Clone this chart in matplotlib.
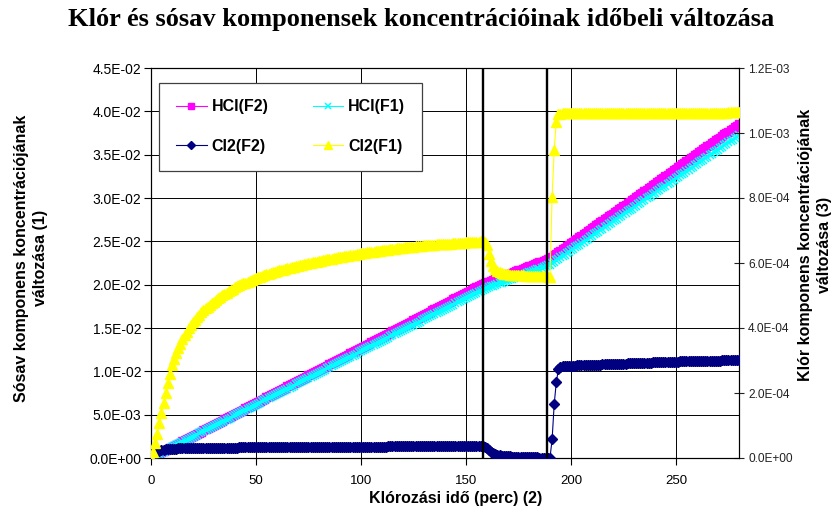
import numpy as np
import matplotlib
matplotlib.use("Agg")
import matplotlib.pyplot as plt
from matplotlib.ticker import FuncFormatter, MultipleLocator

# ---------------- data ----------------
minutes = list(range(0, 281))  # sampling: one point per minute

# HCl concentrations, left axis, in units of 1e-5
hcl_f2 = [
    0, 13, 25, 38, 51, 64, 76, 89, 102, 114,
    127, 140, 152, 165, 178, 191, 203, 216, 229, 241,
    254, 267, 279, 292, 305, 318, 330, 343, 356, 368,
    381, 394, 406, 419, 432, 445, 457, 470, 483, 495,
    508, 521, 533, 546, 559, 572, 584, 597, 610, 622,
    635, 648, 660, 673, 686, 699, 711, 724, 737, 749,
    762, 775, 787, 800, 813, 826, 838, 851, 864, 876,
    889, 902, 914, 927, 940, 953, 965, 978, 991, 1003,
    1016, 1029, 1041, 1054, 1067, 1080, 1092, 1105, 1118, 1130,
    1143, 1156, 1168, 1181, 1194, 1207, 1219, 1232, 1245, 1257,
    1270, 1283, 1295, 1308, 1321, 1334, 1346, 1359, 1372, 1384,
    1397, 1410, 1422, 1435, 1448, 1461, 1473, 1486, 1499, 1511,
    1524, 1537, 1549, 1562, 1575, 1588, 1600, 1613, 1626, 1638,
    1651, 1664, 1676, 1689, 1702, 1715, 1727, 1740, 1753, 1765,
    1778, 1791, 1803, 1816, 1829, 1842, 1854, 1867, 1880, 1892,
    1905, 1918, 1930, 1943, 1956, 1969, 1981, 1994, 2007, 2016,
    2026, 2035, 2044, 2054, 2063, 2072, 2081, 2091, 2100, 2109,
    2119, 2128, 2137, 2147, 2156, 2165, 2174, 2184, 2193, 2202,
    2212, 2221, 2230, 2240, 2249, 2258, 2267, 2277, 2286, 2295,
    2305, 2322, 2339, 2357, 2374, 2391, 2408, 2425, 2443, 2460,
    2477, 2494, 2511, 2529, 2546, 2563, 2580, 2597, 2615, 2632,
    2649, 2666, 2683, 2701, 2718, 2735, 2752, 2769, 2787, 2804,
    2821, 2838, 2855, 2873, 2890, 2907, 2924, 2941, 2959, 2976,
    2993, 3010, 3027, 3045, 3062, 3079, 3096, 3113, 3131, 3148,
    3165, 3182, 3199, 3217, 3234, 3251, 3268, 3285, 3303, 3320,
    3337, 3354, 3371, 3389, 3406, 3423, 3440, 3457, 3475, 3492,
    3509, 3526, 3543, 3561, 3578, 3595, 3612, 3629, 3647, 3664,
    3681, 3698, 3715, 3733, 3750, 3767, 3784, 3801, 3819, 3836,
    3853,
]

hcl_f1 = [
    0, 12, 25, 37, 49, 62, 74, 86, 98, 111,
    123, 135, 148, 160, 172, 185, 197, 209, 221, 234,
    246, 258, 271, 283, 295, 308, 320, 332, 344, 357,
    369, 381, 394, 406, 418, 431, 443, 455, 467, 480,
    492, 504, 517, 529, 541, 554, 566, 578, 590, 603,
    615, 627, 640, 652, 664, 677, 689, 701, 713, 726,
    738, 750, 763, 775, 787, 800, 812, 824, 836, 849,
    861, 873, 886, 898, 910, 923, 935, 947, 959, 972,
    984, 996, 1009, 1021, 1033, 1046, 1058, 1070, 1082, 1095,
    1107, 1119, 1132, 1144, 1156, 1169, 1181, 1193, 1205, 1218,
    1230, 1242, 1255, 1267, 1279, 1292, 1304, 1316, 1328, 1341,
    1353, 1365, 1378, 1390, 1402, 1415, 1427, 1439, 1451, 1464,
    1476, 1488, 1501, 1513, 1525, 1538, 1550, 1562, 1574, 1587,
    1599, 1611, 1624, 1636, 1648, 1661, 1673, 1685, 1697, 1710,
    1722, 1734, 1747, 1759, 1771, 1784, 1796, 1808, 1820, 1833,
    1845, 1857, 1870, 1882, 1894, 1907, 1919, 1931, 1943, 1952,
    1961, 1970, 1979, 1988, 1997, 2006, 2015, 2024, 2033, 2042,
    2051, 2060, 2069, 2078, 2087, 2096, 2105, 2114, 2123, 2132,
    2141, 2150, 2159, 2168, 2177, 2186, 2195, 2204, 2213, 2222,
    2231, 2248, 2264, 2281, 2297, 2314, 2331, 2347, 2364, 2380,
    2397, 2414, 2430, 2447, 2463, 2480, 2497, 2513, 2530, 2546,
    2563, 2580, 2596, 2613, 2629, 2646, 2663, 2679, 2696, 2712,
    2729, 2746, 2762, 2779, 2795, 2812, 2829, 2845, 2862, 2878,
    2895, 2912, 2928, 2945, 2961, 2978, 2995, 3011, 3028, 3044,
    3061, 3078, 3094, 3111, 3127, 3144, 3161, 3177, 3194, 3210,
    3227, 3244, 3260, 3277, 3293, 3310, 3327, 3343, 3360, 3376,
    3393, 3410, 3426, 3443, 3459, 3476, 3493, 3509, 3526, 3542,
    3559, 3576, 3592, 3609, 3625, 3642, 3659, 3675, 3692, 3708,
    3725,
]

# Cl2 concentrations, right axis, in units of 1e-6
cl2_f2 = [
    0, 8, 14, 19, 22, 24, 26, 27, 28, 28,
    29, 29, 29, 30, 30, 30, 30, 30, 30, 31,
    31, 31, 31, 31, 31, 31, 31, 32, 32, 32,
    32, 32, 32, 32, 32, 32, 32, 32, 32, 32,
    32, 32, 33, 33, 33, 33, 33, 33, 33, 33,
    33, 33, 33, 33, 33, 33, 33, 33, 33, 33,
    33, 33, 34, 34, 34, 34, 34, 34, 34, 34,
    34, 34, 34, 34, 34, 34, 34, 34, 34, 34,
    34, 34, 34, 34, 34, 34, 34, 35, 35, 35,
    35, 35, 35, 35, 35, 35, 35, 35, 35, 35,
    35, 35, 35, 35, 35, 35, 35, 35, 35, 35,
    35, 35, 35, 36, 36, 36, 36, 36, 36, 36,
    36, 36, 36, 36, 36, 36, 36, 36, 36, 36,
    36, 36, 36, 36, 36, 36, 36, 36, 36, 36,
    36, 36, 36, 37, 37, 37, 37, 37, 37, 37,
    37, 37, 37, 37, 37, 37, 37, 37, 37, 35,
    30, 24, 19, 15, 12, 10, 8, 7, 6, 6,
    5, 5, 4, 4, 4, 3, 3, 3, 3, 2,
    2, 2, 2, 2, 2, 1, 1, 1, 1, 1,
    1, 57, 166, 233, 273, 280, 282, 283, 283, 283,
    284, 284, 284, 285, 285, 285, 285, 286, 286, 286,
    286, 287, 287, 287, 287, 288, 288, 288, 288, 289,
    289, 289, 289, 290, 290, 290, 290, 291, 291, 291,
    291, 292, 292, 292, 292, 293, 293, 293, 293, 294,
    294, 294, 294, 295, 295, 295, 295, 296, 296, 296,
    296, 296, 297, 297, 297, 297, 298, 298, 298, 298,
    299, 299, 299, 299, 299, 300, 300, 300, 300, 300,
    300, 300, 301, 301, 301, 301, 301, 301, 301, 301,
    301,
]

cl2_f1 = [
    0, 18, 45, 75, 107, 140, 170, 200, 230, 258,
    285, 305, 322, 338, 352, 365, 377, 388, 399, 409,
    418, 426, 434, 441, 448, 455, 461, 466, 471, 476,
    481, 486, 491, 496, 501, 505, 509, 513, 517, 521,
    525, 528, 531, 534, 537, 540, 543, 546, 549, 552,
    554, 556, 558, 561, 563, 565, 567, 569, 571, 573,
    575, 577, 579, 580, 582, 584, 585, 587, 589, 590,
    592, 593, 595, 596, 598, 599, 600, 602, 603, 604,
    606, 607, 608, 610, 611, 612, 613, 614, 616, 617,
    619, 620, 621, 622, 623, 624, 625, 626, 627, 629,
    630, 631, 632, 633, 634, 635, 635, 636, 637, 638,
    639, 640, 641, 641, 642, 643, 644, 645, 645, 646,
    647, 648, 648, 649, 650, 650, 651, 652, 652, 653,
    654, 654, 655, 655, 656, 656, 657, 657, 658, 658,
    659, 659, 660, 660, 661, 661, 662, 662, 663, 663,
    664, 664, 665, 665, 665, 666, 666, 667, 667, 665,
    655, 628, 605, 590, 581, 576, 572, 569, 567, 566,
    565, 564, 564, 563, 563, 562, 562, 562, 561, 561,
    561, 560, 560, 560, 560, 559, 559, 559, 559, 558,
    558, 804, 948, 1035, 1057, 1060, 1061, 1061, 1061, 1061,
    1061, 1061, 1061, 1061, 1061, 1061, 1061, 1061, 1061, 1061,
    1061, 1061, 1061, 1061, 1061, 1061, 1061, 1061, 1061, 1061,
    1061, 1061, 1061, 1061, 1061, 1062, 1062, 1062, 1062, 1062,
    1062, 1062, 1062, 1062, 1062, 1062, 1062, 1062, 1062, 1062,
    1062, 1062, 1062, 1062, 1062, 1062, 1062, 1062, 1062, 1062,
    1062, 1062, 1062, 1062, 1062, 1063, 1063, 1063, 1063, 1063,
    1063, 1063, 1063, 1063, 1063, 1063, 1063, 1063, 1063, 1063,
    1063, 1063, 1063, 1063, 1063, 1064, 1064, 1064, 1064, 1064,
    1064,
]

phase_boundaries = [158, 188.7]   # vertical black lines (minutes)

title = "Klór és sósav komponensek koncentrációinak időbeli változása"
xlabel = "Klórozási idő (perc) (2)"
ylabel_left = "Sósav komponens koncentrációjának\nváltozása (1)"
ylabel_right = "Klór komponens koncentrációjának\nváltozása (3)"
legend_labels = ["HCl(F2)", "HCl(F1)", "Cl2(F2)", "Cl2(F1)"]

# ---------------- figure ----------------
plt.rcParams["font.family"] = ["Liberation Sans", "DejaVu Sans"]

W, H = 837, 518
fig = plt.figure(figsize=(W / 100, H / 100), dpi=100)
fig.patch.set_facecolor("white")

L, R, T, B = 151, 739, 68, 458
ax = fig.add_axes([L / W, (H - B) / H, (R - L) / W, (B - T) / H])
ax2 = ax.twinx()

t = np.array(minutes)
l1, = ax.plot(t, np.array(hcl_f2) * 1e-5, color="#FF00FF", lw=0.8,
              marker="s", ms=5.5, mec="#FF00FF", mfc="#FF00FF", zorder=3)
l2, = ax.plot(t, np.array(hcl_f1) * 1e-5, color="#00FFFF", lw=0.8,
              marker="x", ms=5.3, mew=1.1, mec="#00FFFF", zorder=4)
l3, = ax2.plot(t, np.array(cl2_f2) * 1e-6, color="#000080", lw=0.8,
               marker="D", ms=5.0, mec="#000080", mfc="#000080", zorder=3)
l4, = ax2.plot(t, np.array(cl2_f1) * 1e-6, color="#FFFF00", lw=0.8,
               marker="^", ms=6.8, mec="#FFFF00", mfc="#FFFF00", zorder=4)

for xb in phase_boundaries:
    ax2.axvline(xb, color="black", lw=1.7, zorder=5)

# axes limits / ticks
ax.set_xlim(0, 280)
ax.set_ylim(0, 0.045)
ax2.set_ylim(0, 1.2e-3)
ax.xaxis.set_major_locator(MultipleLocator(50))
ax.yaxis.set_major_locator(MultipleLocator(0.005))
ax2.yaxis.set_major_locator(MultipleLocator(2e-4))
sci = FuncFormatter(lambda v, p: f"{v:.1E}")
ax.yaxis.set_major_formatter(sci)
ax2.yaxis.set_major_formatter(sci)

ax.grid(True, color="black", lw=0.7, zorder=0)
ax.set_axisbelow(True)

ax.tick_params(axis="y", labelsize=10, length=5, width=0.8, direction="out", pad=2)
ax.tick_params(axis="x", labelsize=9.5, length=5, width=0.8, direction="out", pad=7.5)
ax2.tick_params(axis="y", labelsize=8.6, length=7, width=0.8, direction="inout",
                pad=3, colors="#222222")
for a in (ax, ax2):
    for s in a.spines.values():
        s.set_color("black")
        s.set_linewidth(0.8)

# texts
fig.text(421 / W, (H - 26) / H, title, ha="center", va="baseline",
         fontsize=19, fontweight="bold", family=["Liberation Serif", "DejaVu Serif"])
fig.text(456 / W, (H - 498) / H, xlabel, ha="center", va="center",
         fontsize=11.5, fontweight="bold")
fig.text(31 / W, (H - 258) / H, ylabel_left, ha="center", va="center",
         rotation=90, fontsize=11.5, fontweight="bold", linespacing=1.35,
         multialignment="center")
fig.text(815 / W, (H - 245) / H, ylabel_right, ha="center", va="center",
         rotation=90, fontsize=11.5, fontweight="bold", linespacing=1.35,
         multialignment="center")

# legend (two columns: HCl top row, Cl2 bottom row)
leg = ax2.legend([l1, l3, l2, l4],
                 [legend_labels[0], legend_labels[2], legend_labels[1], legend_labels[3]],
                 ncol=2, loc="upper left",
                 bbox_to_anchor=(8.5 / (R - L), (B - 82.5) / (B - T)),
                 prop={"weight": "bold", "size": 11.5},
                 frameon=True, fancybox=False, shadow=False, framealpha=1,
                 edgecolor="#404040", facecolor="white",
                 borderpad=1.05, labelspacing=1.55, handlelength=1.9,
                 handletextpad=0.3, columnspacing=2.8, borderaxespad=0,
                 markerscale=0.75)
leg.get_frame().set_linewidth(0.9)
leg.set_zorder(10)

fig.savefig("out.png", dpi=100, facecolor="white")
